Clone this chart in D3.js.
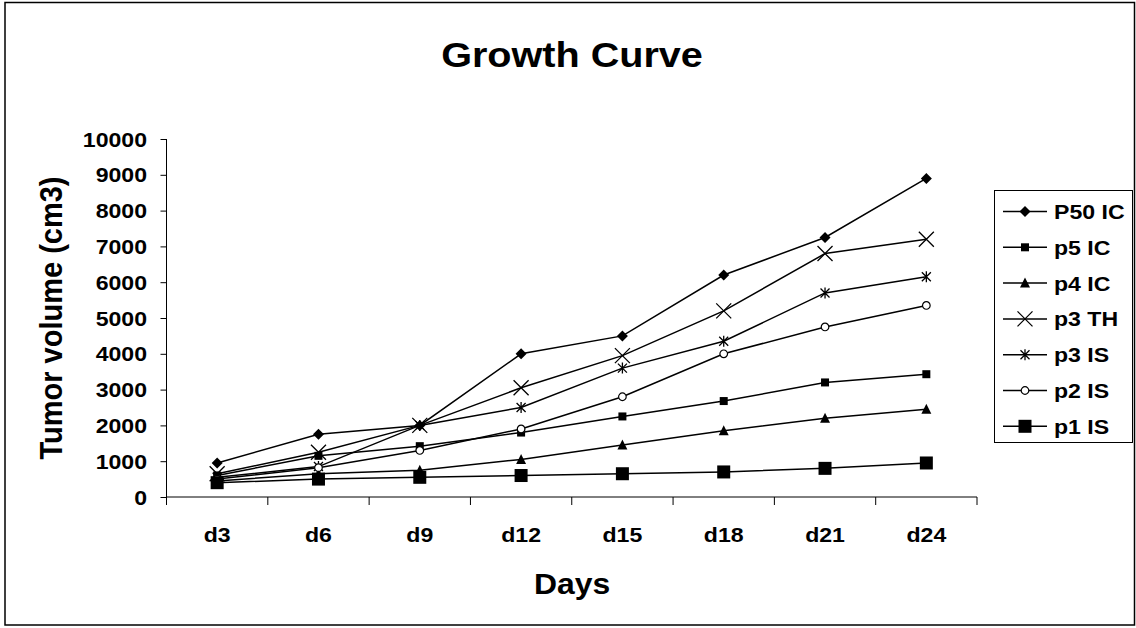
<!DOCTYPE html>
<html><head><meta charset="utf-8">
<script src="https://cdn.jsdelivr.net/npm/d3@7"></script>
<style>
html,body{margin:0;padding:0;background:#fff;}
svg{display:block;}
text{font-family:"Liberation Sans",Arial,sans-serif;font-weight:bold;fill:#000;}
</style></head><body>
<script>
const categories = ["d3","d6","d9","d12","d15","d18","d21","d24"];
const seriesNames = ["P50 IC","p5 IC","p4 IC","p3 TH","p3 IS","p2 IS","p1 IS"];
const p50IC = [950, 1750, 2000, 4000, 4500, 6200, 7250, 8900];
const p5IC  = [600, 1150, 1420, 1800, 2250, 2680, 3200, 3430];
const p4IC  = [450, 650, 750, 1050, 1450, 1850, 2200, 2450];
const p3TH  = [650, 1250, 2000, 3050, 3950, 5200, 6800, 7200];
const p3IS  = [550, 850, 2000, 2500, 3600, 4350, 5700, 6150];
const p2IS  = [500, 820, 1300, 1900, 2800, 4000, 4750, 5350];
const p1IS  = [400, 500, 550, 600, 650, 700, 800, 950];
const yTicks = [0,1000,2000,3000,4000,5000,6000,7000,8000,9000,10000];
const chartTitle = "Growth Curve";
const xTitle = "Days";
const yTitle = "Tumor volume (cm3)";

const seriesValues = [p50IC, p5IC, p4IC, p3TH, p3IS, p2IS, p1IS];
const markerTypes = ["diamond","square","triangle","x","asterisk","circle","bigsquare"];

const W = 1136, H = 628;
const SX = 1.1; // horizontal stretch of text
const svg = d3.select("body").append("svg").attr("width", W).attr("height", H);

// outer frame
svg.append("rect").attr("x",5).attr("y",2.5).attr("width",1129.5).attr("height",622.5)
  .attr("fill","none").attr("stroke","#000").attr("stroke-width",1.5);

const plot = {left:166.5, right:977, top:139, bottom:497};
const x = d3.scaleBand().domain(categories).range([plot.left, plot.right]).padding(0);
const xc = c => x(c) + x.bandwidth()/2;
const y = d3.scaleLinear().domain([0,10000]).range([plot.bottom, plot.top]);

function stext(g, str, tx, ty, size, anchor, rot){
  const t = g.append("text").text(str)
    .attr("transform", `translate(${tx},${ty}) scale(${SX},1)` + (rot ? ` rotate(${rot})` : ""))
    .attr("font-size", size).attr("text-anchor", anchor || "middle");
  return t;
}

// title
stext(svg, chartTitle, 572, 66.5, 36, "middle");

// y axis
const yAxis = svg.append("g").attr("transform", `translate(${plot.left},0)`)
  .call(d3.axisLeft(y).tickValues(yTicks).tickSize(6).tickFormat(""));
yAxis.select(".domain").attr("stroke","#000").attr("stroke-width",1).attr("d", `M0,${plot.top}V${plot.bottom}`);
yAxis.selectAll(".tick line").attr("stroke","#000");
yTicks.forEach(v => stext(svg, d3.format("d")(v), 147, y(v) + 7.5, 21, "end"));

// x axis
const xAxis = svg.append("g").attr("transform", `translate(0,${plot.bottom})`);
xAxis.append("line").attr("x1",plot.left).attr("x2",plot.right).attr("stroke","#000").attr("stroke-width",1);
const bounds = categories.map(c => x(c)).concat([plot.right]);
xAxis.selectAll("line.tk").data(bounds).join("line").attr("class","tk")
  .attr("x1",d=>d).attr("x2",d=>d).attr("y1",0).attr("y2",8).attr("stroke","#000");
categories.forEach(c => stext(svg, c, xc(c), 542, 21, "middle"));

// axis titles
stext(svg, xTitle, 572, 594, 29, "middle");
stext(svg, yTitle, 62, (plot.top+plot.bottom)/2, 29, "middle", -90);

// markers
function drawMarker(g, type){
  const sw = 1.3;
  switch(type){
    case "diamond": g.append("path").attr("d","M0,-5.5L5.5,0L0,5.5L-5.5,0Z").attr("fill","#000"); break;
    case "square": g.append("rect").attr("x",-4).attr("y",-4).attr("width",8).attr("height",8).attr("fill","#000"); break;
    case "triangle": g.append("path").attr("d","M0,-5.5L5,4.5L-5,4.5Z").attr("fill","#000"); break;
    case "x": g.append("path").attr("d","M-7.5,-7.5L7.5,7.5M-7.5,7.5L7.5,-7.5").attr("stroke","#000").attr("stroke-width",sw).attr("fill","none"); break;
    case "asterisk": g.append("path").attr("d","M-4.5,-4.5L4.5,4.5M-4.5,4.5L4.5,-4.5M0,-5.5L0,5.5").attr("stroke","#000").attr("stroke-width",sw).attr("fill","none"); break;
    case "circle": g.append("circle").attr("r",3.8).attr("fill","#fff").attr("stroke","#000").attr("stroke-width",1.2); break;
    case "bigsquare": g.append("rect").attr("x",-6.5).attr("y",-6.5).attr("width",13).attr("height",13).attr("fill","#000"); break;
  }
}

const line = d3.line().x((d,i)=>xc(categories[i])).y(d=>y(d));
const series = seriesNames.map((n,i)=>({name:n, values:seriesValues[i], marker:markerTypes[i]}));

const lines = svg.append("g");
series.forEach(s => {
  lines.append("path").datum(s.values).attr("d", line)
    .attr("fill","none").attr("stroke","#000").attr("stroke-width",1.5);
});
const marks = svg.append("g");
series.forEach(s => {
  s.values.forEach((v,i) => {
    const g = marks.append("g").attr("transform",`translate(${xc(categories[i])},${y(v)})`);
    drawMarker(g, s.marker);
  });
});

// legend
const lg = svg.append("g");
lg.append("rect").attr("x",994.5).attr("y",190.5).attr("width",138).attr("height",252)
  .attr("fill","#fff").attr("stroke","#000").attr("stroke-width",1);
const rowY = i => 211.5 + i*35.8;
series.forEach((s,i) => {
  lg.append("line").attr("x1",1003).attr("x2",1047).attr("y1",rowY(i)).attr("y2",rowY(i))
    .attr("stroke","#000").attr("stroke-width",1.5);
  const g = lg.append("g").attr("transform",`translate(1025,${rowY(i)})`);
  drawMarker(g, s.marker);
  stext(lg, s.name, 1054, rowY(i)+7.5, 21, "start");
});
</script>
</body></html>
